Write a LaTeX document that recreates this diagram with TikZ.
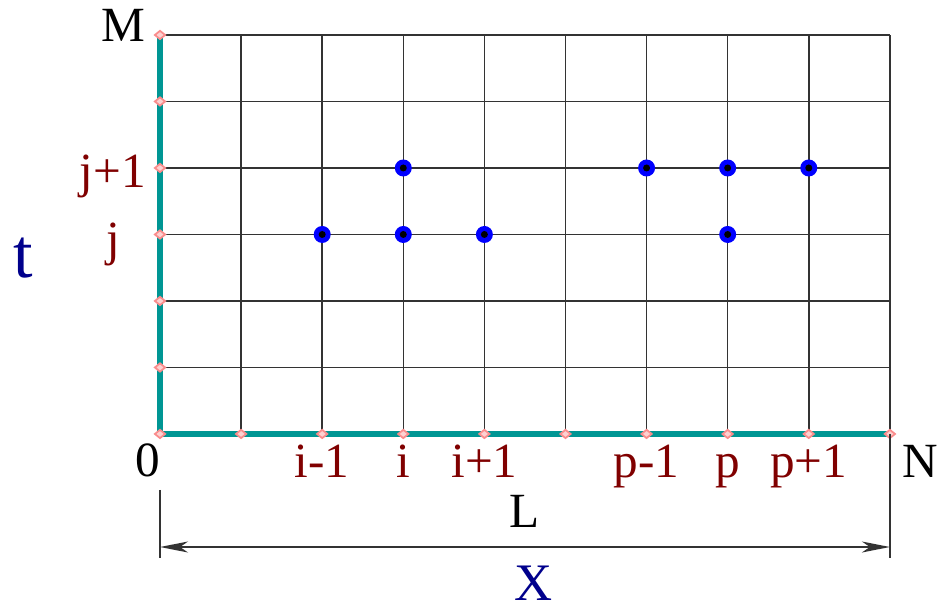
\documentclass[tikz,border=0pt]{standalone}
\usepackage{fontspec}
\setmainfont{Liberation Serif}
\usepackage{tikz}
\usetikzlibrary{arrows.meta,shapes.geometric}
\definecolor{axisteal}{RGB}{0,150,148}
\definecolor{idxred}{RGB}{128,0,0}
\definecolor{varblue}{RGB}{0,0,140}
\definecolor{markpink}{RGB}{250,140,140}

\begin{document}
\begin{tikzpicture}[x=0.811cm,y=0.665cm,
        gridline/.style={color=black!80,line width=0.45pt},
        axisline/.style={color=axisteal,line width=1.6pt},
        tickmark/.style={diamond,draw=markpink,fill=markpink!40,line width=0.5pt,inner sep=0pt,minimum width=0.11cm,minimum height=0.09cm},
        knot/.style={circle,fill=blue,inner sep=0pt,minimum size=0.17cm,path picture={\fill[black] (path picture bounding box.center) circle (0.035cm);}},
        idxlbl/.style={anchor=base,color=idxred,font=\fontsize{14}{16}\selectfont},
        endlbl/.style={anchor=base,font=\fontsize{14}{16}\selectfont},
        dimarrow/.style={{Stealth[length=0.28cm,width=0.11cm,inset=0.08cm]}-{Stealth[length=0.28cm,width=0.11cm,inset=0.08cm]}}]
    \useasboundingbox (-1.973,-2.617) rectangle (9.655,6.526);
    \foreach \k in {1,...,9} \draw[gridline] (\k,0) -- (\k,6);
    \foreach \k in {1,...,6} \draw[gridline] (0,\k) -- (9,\k);
    \draw[axisline] (0,6) -- (0,0) -- (9,0);
    \foreach \k in {0,...,9} \node[tickmark] (bx\k) at (\k,0) {};
    \foreach \k in {1,...,6} \node[tickmark] (ly\k) at (0,\k) {};
    \node[knot] (im) at (2,3) {}; \node[knot] (ic) at (3,3) {}; \node[knot] (ip) at (4,3) {}; \node[knot] (it) at (3,4) {};
    \node[knot] (pm) at (6,4) {}; \node[knot] (pt) at (7,4) {}; \node[knot] (pp) at (8,4) {}; \node[knot] (pc) at (7,3) {};
    \node[endlbl] (lblM) at (-0.456,5.895) {M}; \node[endlbl] (lbl0) at (-0.148,-0.647) {0}; \node[endlbl] (lblN) at (9.371,-0.655) {N};
    \node[idxlbl] (lblim) at (2,-0.65) {i-1}; \node[idxlbl] (lblic) at (3,-0.65) {i}; \node[idxlbl] (lblip) at (4,-0.65) {i+1};
    \node[idxlbl] (lblpm) at (6,-0.65) {p-1}; \node[idxlbl] (lblpc) at (7,-0.65) {p}; \node[idxlbl] (lblpp) at (8,-0.65) {p+1};
    \node[idxlbl] (lbljp) at (-0.58,3.70) {j+1}; \node[idxlbl] (lbljc) at (-0.58,2.69) {j};
    \node[anchor=base,color=varblue,font=\fontsize{20}{24}\selectfont] (lblt) at (-1.69,2.36) {t};
    \node[endlbl] (lblL) at (4.50,-1.40) {L};
    \node[anchor=base,color=varblue,font=\fontsize{15}{18}\selectfont] (lblX) at (4.60,-2.51) {X};
    \coordinate (extLtop) at (0,-0.84); \coordinate (extLbot) at (0,-1.865); \coordinate (extRtop) at (9,0); \coordinate (extRbot) at (9,-1.865);
    \coordinate (dimL) at (0,-1.70); \coordinate (dimR) at (9,-1.70);
    \draw[gridline] (extLtop) -- (extLbot); \draw[gridline] (extRtop) -- (extRbot);
    \draw[gridline,dimarrow] (dimL) -- (dimR);
\end{tikzpicture}
\end{document}
